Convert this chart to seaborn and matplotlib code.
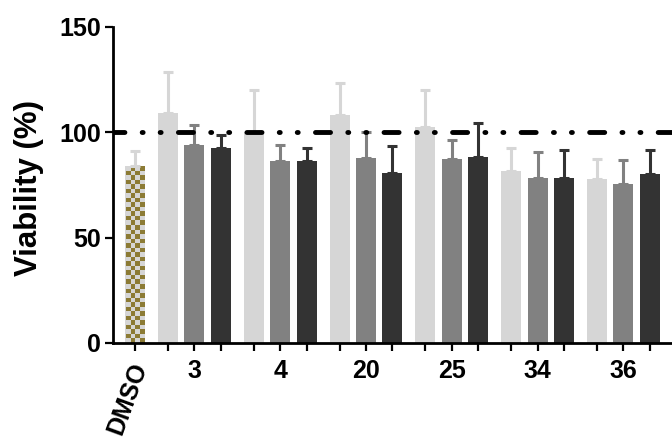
import numpy as np
import pandas as pd
import matplotlib
matplotlib.use("Agg")
import matplotlib.pyplot as plt
import seaborn as sns
from matplotlib.colors import ListedColormap

# ---- data -------------------------------------------------------------
compounds = ["3", "4", "20", "25", "34", "36"]
control_label = "DMSO"
dmso_mean = 84.0
dmso_sd = 7.0
low_mean = [109.0, 100.3, 108.2, 102.7, 81.6, 77.7]
low_sd = [19.5, 19.7, 15.3, 17.4, 10.8, 9.5]
mid_mean = [94.1, 86.2, 87.6, 87.2, 78.3, 75.6]
mid_sd = [9.4, 8.0, 12.7, 9.2, 12.3, 11.3]
high_mean = [92.7, 86.2, 80.8, 88.4, 78.5, 80.1]
high_sd = [6.0, 6.5, 12.7, 15.8, 13.1, 11.5]
reference_level = 100
y_ticks = [0, 50, 100, 150]

series_order = ["control", "low", "mid", "high"]
series_colors = {"control": "#d6d6d6", "low": "#d6d6d6",
                 "mid": "#818181", "high": "#333333"}
checker_color = "#8c7b35"

# ---- layout of bar slots -----------------------------------------------
group_gap = 1.25     # space from previous bar to first bar of a group
group_step = 3.25    # distance between consecutive groups

rows = [dict(pos=0.0, viability=dmso_mean, sd=dmso_sd,
             series="control", label="")]
for g, name in enumerate(compounds):
    base = group_gap + g * group_step
    for k, (ser, m, s) in enumerate(zip(["low", "mid", "high"],
                                        [low_mean, mid_mean, high_mean],
                                        [low_sd, mid_sd, high_sd])):
        rows.append(dict(pos=base + k, viability=m[g], sd=s[g], series=ser,
                         label=name if k == 1 else ""))
df = pd.DataFrame(rows)

# ---- figure -------------------------------------------------------------
sns.set_style("ticks")
plt.rcParams["font.family"] = ["Liberation Sans", "DejaVu Sans"]
plt.rcParams["font.weight"] = "bold"
for key in ("text.color", "axes.labelcolor", "xtick.color", "ytick.color",
            "axes.edgecolor"):
    plt.rcParams[key] = "black"

fig = plt.figure(figsize=(6.72, 4.37), dpi=100)
ax = fig.add_axes([113 / 672, 94 / 437, 1 - 113 / 672, (343 - 27) / 437])

sns.barplot(data=df, x="pos", y="viability", hue="series",
            hue_order=series_order, palette=series_colors,
            native_scale=True, dodge=False, width=0.76, errorbar=None,
            saturation=1, linewidth=0, legend=False, ax=ax)

ax.set_xlim(-0.83, 20.34)
ax.set_ylim(0, 150)

# upper error bars, same colour as their bars
for ser in series_order:
    sub = df[df["series"] == ser]
    ax.errorbar(sub["pos"], sub["viability"],
                yerr=[np.zeros(len(sub)), sub["sd"]], fmt="none",
                ecolor=series_colors[ser], elinewidth=2.2, capsize=3.8,
                capthick=2.2, zorder=1.5)

# checkerboard fill of the control bar
fig.canvas.draw()
ctrl = [p for p in ax.patches
        if abs(p.get_x() + p.get_width() / 2 - df.loc[0, "pos"]) < 1e-6][0]
x0, w, h = ctrl.get_x(), ctrl.get_width(), ctrl.get_height()
(px0, py0), (px1, py1) = ax.transData.transform([(x0, 0), (x0 + w, h)])
nx = 4
cell = (px1 - px0 - 2) / nx
ny = int(round((py1 - py0) / cell))
board = np.indices((ny, nx)).sum(axis=0) % 2
inset = w * 1.0 / (px1 - px0)
img = ax.imshow(board, extent=(x0 + inset, x0 + w - inset, 0, h),
                origin="lower", aspect="auto", interpolation="nearest",
                cmap=ListedColormap([series_colors["control"], checker_color]),
                zorder=ctrl.get_zorder() + 0.1)
img.set_clip_path(ctrl)
ax.set_xlim(-0.83, 20.34)
ax.set_ylim(0, 150)

# 100 % reference line: dash-dot-dot
ax.axhline(reference_level, color="black", lw=3.5,
           linestyle=(0.75, (3.1, 3.55, 0.2, 3.5, 0.2, 3.55)),
           dash_capstyle="round", zorder=3)

# axes styling
ax.set_yticks(y_ticks)
ax.set_yticklabels([str(t) for t in y_ticks])
ax.set_xticks(df["pos"])
ax.set_xticklabels(df["label"])

ax.tick_params(axis="both", length=5.8, width=1.6, labelsize=18,
               direction="out", color="black", labelcolor="black")
ax.tick_params(axis="y", pad=3)
ax.tick_params(axis="x", pad=6)
for t in ax.get_xticklabels() + ax.get_yticklabels():
    t.set_fontweight("bold")

# slanted label under the control bar
ax.annotate(control_label, xy=(df.loc[0, "pos"], 0),
            xycoords=("data", "axes fraction"),
            xytext=(-4.5, -11.5), textcoords="offset points",
            rotation=70, rotation_mode="anchor", ha="right", va="top",
            fontsize=18, fontweight="bold", color="black",
            annotation_clip=False)

sns.despine(ax=ax)
for side in ("left", "bottom"):
    ax.spines[side].set_linewidth(2.0)
    ax.spines[side].set_color("black")

ax.set_xlabel("")
ax.set_ylabel("Viability (%)", fontsize=22.5, fontweight="bold")
ax.yaxis.set_label_coords(-0.123, 0.49)

fig.savefig("out.png", dpi=100)
